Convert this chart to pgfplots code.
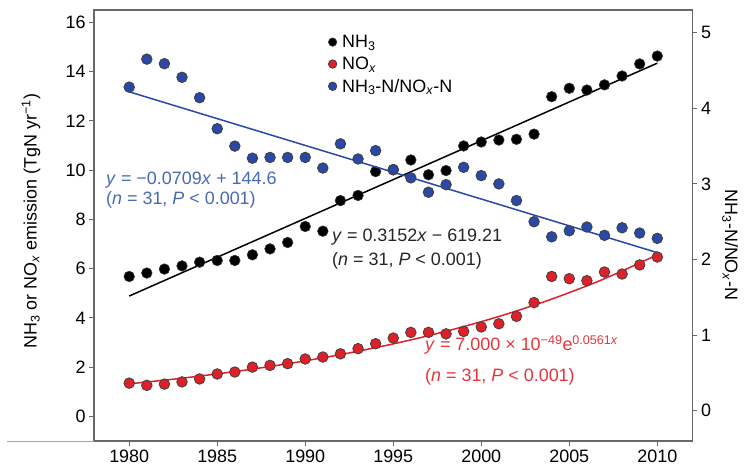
\documentclass[border=0pt]{standalone}
\usepackage{fontspec}
\setmainfont{Liberation Sans}
\usepackage{pgfplots}
\usepackage{pgfplotstable}
\pgfplotsset{compat=1.18}

\definecolor{noxred}{RGB}{222,32,40}
\definecolor{ratioblue}{RGB}{42,72,165}
\definecolor{bluetext}{RGB}{72,105,182}
\definecolor{redtext}{RGB}{230,52,58}
\definecolor{framegray}{RGB}{105,105,105}

\pgfplotstableread{
year nh3 nox ratio
1980 5.68 1.35 4.28
1981 5.82 1.26 4.65
1982 5.98 1.31 4.59
1983 6.11 1.40 4.41
1984 6.26 1.52 4.14
1985 6.33 1.72 3.73
1986 6.33 1.80 3.50
1987 6.56 2.00 3.34
1988 6.80 2.07 3.35
1989 7.06 2.14 3.35
1990 7.71 2.33 3.35
1991 7.52 2.41 3.21
1992 8.76 2.54 3.53
1993 8.97 2.75 3.33
1994 9.94 2.95 3.44
1995 10.01 3.18 3.19
1996 10.41 3.41 3.08
1997 9.81 3.41 2.89
1998 9.98 3.35 2.99
1999 10.98 3.45 3.22
2000 11.14 3.63 3.11
2001 11.22 3.76 3.00
2002 11.25 4.06 2.78
2003 11.46 4.62 2.50
2004 12.98 5.68 2.30
2005 13.32 5.59 2.38
2006 13.25 5.51 2.43
2007 13.46 5.86 2.32
2008 13.82 5.78 2.42
2009 14.31 6.15 2.35
2010 14.63 6.47 2.28
}\data

\newcommand{\fnt}{\fontsize{18}{21}\selectfont}

\pgfplotsset{
  common/.style={
    scale only axis, width=598.5bp, height=431bp,
    xmin=1978, xmax=2012,
    tick align=outside,
    major tick length=5bp,
    axis line style={framegray, line width=1.1pt},
    major tick style={framegray, line width=1.1pt},
    tick label style={font=\fnt},
    /pgf/number format/assume math mode=true,
    label style={font=\fnt},
  }
}

\begin{document}
\begin{tikzpicture}
\begin{axis}[common, name=main,
  ymin=-1, ymax=16.5,
  ytick={0,2,...,16},
  xtick={1980,1985,...,2010},
  xticklabel style={/pgf/number format/1000 sep={}},
  ytick pos=left, xtick pos=bottom,
  ylabel={NH\textsubscript{3} or NO\textsubscript{\textit{x}} emission (TgN yr\textsuperscript{−1})},
  ylabel style={at={(axis description cs:-0.105,0.51)}, anchor=center},
  legend style={at={(axis description cs:0.390,0.9455)}, anchor=north west, draw=none, fill=none,
    font=\fnt, row sep=5bp, inner sep=0pt, nodes={inner sep=1.5bp}},
  legend cell align=left,
  legend image code/.code={\path[draw=none,fill=none] (0bp,0bp) -- (13bp,0bp); \draw[#1, mark size=4.2bp] plot coordinates {(5bp,0bp)};},
  clip=false,
]
\addplot[black, line width=1.5pt, forget plot] coordinates {(1980,4.886) (2010,14.342)};
\addplot[noxred, line width=1.5pt, smooth, forget plot] coordinates {
 (1980,1.320) (1983,1.550) (1986,1.819) (1989,2.136) (1992,2.507) (1995,2.943)
 (1998,3.455) (2001,4.056) (2004,4.761) (2007,5.589) (2010,6.561)};
\addplot[only marks, mark=*, mark size=5.3bp, mark options={fill=black, draw=black!80, line width=0.6pt}] table[x=year, y=nh3] {\data};
\addlegendentry{NH\textsubscript{3}}
\addplot[only marks, mark=*, mark size=5.3bp, mark options={fill=noxred, draw=black!75, line width=0.8pt}] table[x=year, y=nox] {\data};
\addlegendentry{NO\textsubscript{\textit{x}}}
\addlegendimage{only marks, mark=*, mark size=5.3bp, mark options={fill=ratioblue, draw=black!75, line width=0.8pt}}
\addlegendentry{NH\textsubscript{3}-N/NO\textsubscript{\textit{x}}-N}

\node[anchor=west, text=bluetext, font=\fnt, inner sep=0pt] at (axis description cs:0.020,0.6056) {\textit{y} = −0.0709\textit{x} + 144.6};
\node[anchor=west, text=bluetext, font=\fnt, inner sep=0pt] at (axis description cs:0.020,0.559) {(\textit{n} = 31, \textit{P} < 0.001)};
\node[anchor=west, text=black!85, font=\fnt, inner sep=0pt] at (axis description cs:0.3977,0.474) {\textit{y} = 0.3152\textit{x} − 619.21};
\node[anchor=west, text=black!85, font=\fnt, inner sep=0pt] at (axis description cs:0.3977,0.418) {(\textit{n} = 31, \textit{P} < 0.001)};
\node[anchor=west, text=redtext, font=\fnt, inner sep=0pt] at (axis description cs:0.553,0.2227) {\textit{y} = 7.000 × 10\textsuperscript{−49}e\textsuperscript{0.0561\textit{x}}};
\node[anchor=west, text=redtext, font=\fnt, inner sep=0pt] at (axis description cs:0.553,0.149) {(\textit{n} = 31, \textit{P} < 0.001)};
\end{axis}

\begin{axis}[common,
  ymin=-0.4, ymax=5.3,
  ytick={0,1,...,5},
  hide x axis,
  axis y line*=right,
  ylabel={NH\textsubscript{3}-N/NO\textsubscript{\textit{x}}-N},
  ylabel style={at={(axis description cs:1.063,0.455)}, anchor=center, rotate=180},
]
\addplot[ratioblue, line width=1.5pt] coordinates {(1980,4.218) (2010,2.091)};
\addplot[only marks, mark=*, mark size=5.3bp, mark options={fill=ratioblue, draw=black!75, line width=0.8pt}] table[x=year, y=ratio] {\data};
\end{axis}

\draw[black!35, line width=0.6pt] ([xshift=-87bp]main.south west) -- (main.south west);
\pgfresetboundingbox
\path ([shift={(-94bp,-24bp)}]main.south west) rectangle ([shift={(58.5bp,10bp)}]main.north east);
\end{tikzpicture}
\end{document}
